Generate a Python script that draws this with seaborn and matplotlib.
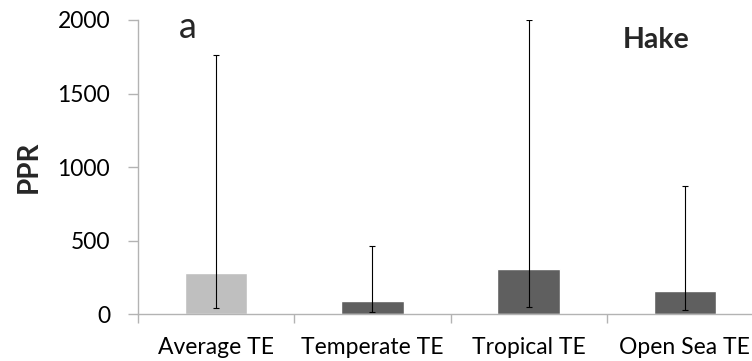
import matplotlib
matplotlib.use("Agg")
import matplotlib.pyplot as plt
import numpy as np
import pandas as pd
import seaborn as sns

# Primary production required (PPR) for hake under different transfer efficiencies
categories = ["Average TE", "Temperate TE", "Tropical TE", "Open Sea TE"]
ppr_values = [280, 92, 310, 158]
err_lower_end = [43, 14, 50, 29]
err_upper_end = [1763, 465, 1997, 875]
bar_colors = ["#bfbfbf", "#5f5f5f", "#5f5f5f", "#5f5f5f"]
y_ticks = [0, 500, 1000, 1500, 2000]

sns.set_theme(style="white")
plt.rcParams["font.family"] = ["Lato", "DejaVu Sans"]

df = pd.DataFrame({"category": categories, "PPR": ppr_values})

fig = plt.figure(figsize=(7.52, 3.61), dpi=100)
ax = fig.add_axes([138 / 752, 46.7 / 361, (763 - 138) / 752, (314.3 - 20) / 361])

sns.barplot(data=df, x="category", y="PPR", hue="category", order=categories,
            palette=bar_colors, width=0.4, saturation=1, legend=False, ax=ax)

xpos = np.arange(len(categories))
vals = np.array(ppr_values, dtype=float)
yerr = np.vstack([vals - np.array(err_lower_end), np.array(err_upper_end) - vals])
ax.errorbar(xpos, vals, yerr=yerr, fmt="none", ecolor="black",
            elinewidth=0.8, capsize=2.3, capthick=0.8)

ax.set_xlim(-0.5, 3.5)
ax.set_ylim(0, 2000)
ax.set_yticks(y_ticks)
ax.set_yticklabels([str(t) for t in y_ticks])
ax.set_xticks(xpos)
ax.set_xticklabels(categories)
ax.set_xticks(np.arange(-0.5, 3.6, 1.0), minor=True)

spine_color = "#b3b3b3"
for side in ["top", "right"]:
    ax.spines[side].set_visible(False)
for side in ["left", "bottom"]:
    ax.spines[side].set_color(spine_color)
    ax.spines[side].set_linewidth(1.0)

ax.tick_params(axis="y", which="major", left=True, length=7, width=1.0,
               color=spine_color, labelsize=16.5, pad=13, labelcolor="#000000")
ax.tick_params(axis="x", which="major", bottom=False, length=0,
               labelsize=16.5, pad=16.5, labelcolor="#000000")
ax.tick_params(axis="x", which="minor", bottom=True, length=6.5, width=1.0,
               color=spine_color)

ax.set_xlabel("")
ax.set_ylabel("")
fig.text(28.5 / 752, 1 - 167 / 361, "PPR", rotation=90, ha="center", va="center",
         fontsize=20, fontweight="bold")
fig.text(188 / 752, 1 - 28 / 361, "a", ha="center", va="center", fontsize=26)
fig.text(656 / 752, 1 - 40 / 361, "Hake", ha="center", va="center",
         fontsize=20.5, fontweight="bold")

fig.savefig("out.png", dpi=100)
